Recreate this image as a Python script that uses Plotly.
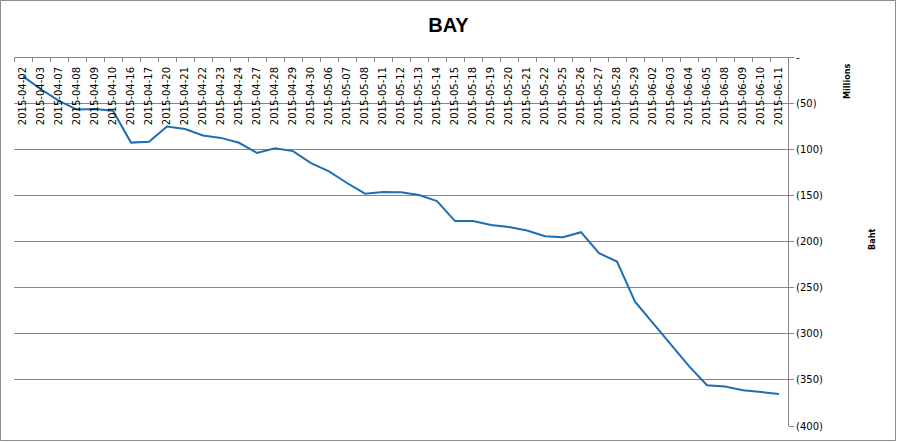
import plotly.graph_objects as go

dates = [
    "2015-04-02", "2015-04-03", "2015-04-07", "2015-04-08", "2015-04-09", "2015-04-10",
    "2015-04-16", "2015-04-17", "2015-04-20", "2015-04-21", "2015-04-22", "2015-04-23",
    "2015-04-24", "2015-04-27", "2015-04-28", "2015-04-29", "2015-04-30", "2015-05-06",
    "2015-05-07", "2015-05-08", "2015-05-11", "2015-05-12", "2015-05-13", "2015-05-14",
    "2015-05-15", "2015-05-18", "2015-05-19", "2015-05-20", "2015-05-21", "2015-05-22",
    "2015-05-25", "2015-05-26", "2015-05-27", "2015-05-28", "2015-05-29", "2015-06-02",
    "2015-06-03", "2015-06-04", "2015-06-05", "2015-06-08", "2015-06-09", "2015-06-10",
    "2015-06-11",
]
baht_millions = [
    -21, -35, -47.5, -57, -56.5, -58.3,
    -92.8, -92, -75.4, -78, -85, -87.7,
    -93, -104, -99, -102, -115, -124,
    -136.6, -148.2, -146.4, -146.7, -149.6, -156.2,
    -177.9, -177.9, -182.2, -184.4, -188, -194.2,
    -195.3, -189.9, -212.7, -221.7, -265.2, -288.4,
    -311.8, -335.1, -355.8, -357.2, -361.2, -363, -365.2,
]
y_tick_vals = [0, -50, -100, -150, -200, -250, -300, -350, -400]
y_tick_text = ["-", "(50)", "(100)", "(150)", "(200)", "(250)", "(300)", "(350)", "(400)"]

W, H = 897, 442
ML, MR, MT, MB = 14, 109, 57, 16
PW, PH = W - ML - MR, H - MT - MB
GRAY = "#868686"

fig = go.Figure()
fig.add_trace(go.Scatter(
    x=dates, y=baht_millions, mode="lines",
    line=dict(color="#1f6eb4", width=2),
    showlegend=False,
))

fig.update_layout(
    template="none",
    width=W, height=H,
    margin=dict(l=ML, r=MR, t=MT, b=MB, autoexpand=False),
    paper_bgcolor="white", plot_bgcolor="white",
    font=dict(family="DejaVu Sans", size=10, color="black"),
    title=dict(text="<b>BAY</b>", x=0.5, xanchor="center", y=1 - 25 / H, yanchor="middle",
               font=dict(family="Liberation Sans", size=20, color="black")),
    xaxis=dict(
        type="category", side="bottom", anchor="free", position=1, tickangle=-90,
        range=[-0.5, len(dates) - 0.5], automargin=False,
        showline=True, linecolor=GRAY, linewidth=1,
        ticks="outside", ticklen=4, tickcolor=GRAY, tickson="boundaries",
        ticklabelstandoff=5,
        showgrid=False, zeroline=False,
        tickfont=dict(family="DejaVu Sans", size=10, color="black"),
    ),
    yaxis=dict(
        side="right", range=[-400, 0], automargin=False,
        tickvals=y_tick_vals, ticktext=y_tick_text,
        showline=True, linecolor=GRAY, linewidth=1,
        ticks="outside", ticklen=5, tickcolor=GRAY,
        showgrid=True, gridcolor=GRAY, gridwidth=1,
        zeroline=False,
        tickfont=dict(family="DejaVu Sans", size=10, color="black"),
    ),
)

# outer chart border
fig.add_shape(type="rect", xref="paper", yref="paper",
              x0=(0.5 - ML) / PW, x1=(W - 1.5 - ML) / PW,
              y0=(MT + PH - (H - 1.5)) / PH, y1=(MT + PH - 0.5) / PH,
              line=dict(color="#8c8c8c", width=1), fillcolor="rgba(0,0,0,0)", layer="below")

fig.add_annotation(text="<b>Millions</b>", xref="paper", yref="paper",
                   x=(847 - ML) / PW, y=(MT + PH - 82) / PH, xanchor="center", yanchor="middle",
                   showarrow=False, textangle=-90,
                   font=dict(family="DejaVu Sans Condensed, DejaVu Sans", size=9, color="black"))
fig.add_annotation(text="<b>Baht</b>", xref="paper", yref="paper",
                   x=(872 - ML) / PW, y=(MT + PH - 240) / PH, xanchor="center", yanchor="middle",
                   showarrow=False, textangle=-90,
                   font=dict(family="DejaVu Sans Condensed, DejaVu Sans", size=9, color="black"))

fig.write_html("out.html", config={"displayModeBar": False},
               post_script="document.body.style.margin='0';")
